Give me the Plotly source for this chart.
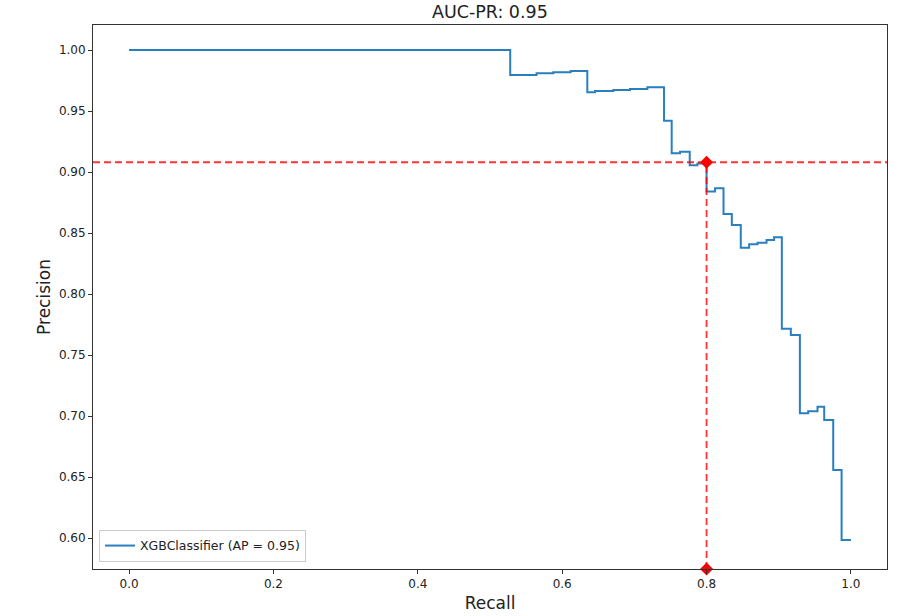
import plotly.graph_objects as go

# Precision-recall curve points (ascending recall)
recall = [0.0, 0.528, 0.5645, 0.5877, 0.6117, 0.6348, 0.6454, 0.6709, 0.6939, 0.718,
          0.7411, 0.7517, 0.7633, 0.7767, 0.7874, 0.800, 0.8118, 0.8235, 0.835, 0.8474,
          0.859, 0.8706, 0.8831, 0.8936, 0.9043, 0.9168, 0.9293, 0.9408, 0.9537, 0.963,
          0.9755, 0.9871, 1.0]
precision = [1.0, 1.0, 0.9795, 0.981, 0.9817, 0.9828, 0.9653, 0.9664, 0.9672, 0.968,
             0.9694, 0.942, 0.9153, 0.9167, 0.9055, 0.907, 0.884, 0.8866, 0.8656, 0.8566,
             0.838, 0.8407, 0.842, 0.8443, 0.8465, 0.7715, 0.7664, 0.7022, 0.704, 0.7076,
             0.6967, 0.6557, 0.5984]

threshold_recall = 0.8
threshold_precision = 0.908
x_range = [-0.05, 1.05]
y_range = [0.5746, 1.0205]
x_ticks = [0.0, 0.2, 0.4, 0.6, 0.8, 1.0]
y_ticks = [0.60, 0.65, 0.70, 0.75, 0.80, 0.85, 0.90, 0.95, 1.00]

red = "rgba(255,0,0,0.8)"

fig = go.Figure()
fig.add_trace(go.Scatter(
    x=recall, y=precision, mode="lines", line=dict(shape="vh", color="#2a7fbf", width=2),
    name="XGBClassifier (AP = 0.95)", showlegend=True))

# horizontal dashed line across the whole axes
fig.add_trace(go.Scatter(
    x=x_range, y=[threshold_precision, threshold_precision], mode="lines",
    line=dict(color=red, width=1.8, dash="7px,4px"), showlegend=False, hoverinfo="skip"))
# vertical dashed line with diamond markers
fig.add_trace(go.Scatter(
    x=[threshold_recall, threshold_recall], y=[y_range[0], threshold_precision],
    mode="lines+markers", line=dict(color=red, width=1.8, dash="7px,4px"),
    marker=dict(symbol="diamond", size=10, color="red"),
    showlegend=False, cliponaxis=False, hoverinfo="skip"))

axis_common = dict(showline=True, linecolor="#333", linewidth=1, mirror=True,
                   ticks="outside", ticklen=4, tickcolor="#333", showgrid=False,
                   zeroline=False, automargin=False, tickfont=dict(size=12, color="#222"))

fig.update_layout(
    width=905, height=616,
    margin=dict(l=93, r=18, t=25, b=47),
    plot_bgcolor="white", paper_bgcolor="white",
    font=dict(family="DejaVu Sans", color="#222"),
    title=dict(text="AUC-PR: 0.95", x=0.5413, xanchor="center", y=0.9805, yanchor="middle",
               font=dict(size=17.5)),
    xaxis=dict(range=x_range, tickvals=x_ticks, ticktext=["0.0", "0.2", "0.4", "0.6", "0.8", "1.0"],
               title=dict(text="Recall", font=dict(size=17), standoff=6), **axis_common),
    yaxis=dict(range=y_range, tickvals=y_ticks, ticktext=[f"{v:.2f}" for v in y_ticks],
               title=dict(text="Precision", font=dict(size=17), standoff=3), **axis_common),
    legend=dict(x=0.0076, y=0.013, xanchor="left", yanchor="bottom", bgcolor="white",
                bordercolor="#ccc", borderwidth=1, font=dict(size=12.5)),
)

# remove the default 8px page margin so the figure fills the window exactly
fig.write_html("out.html", config={"displayModeBar": False},
               post_script="document.body.style.margin='0px';")
